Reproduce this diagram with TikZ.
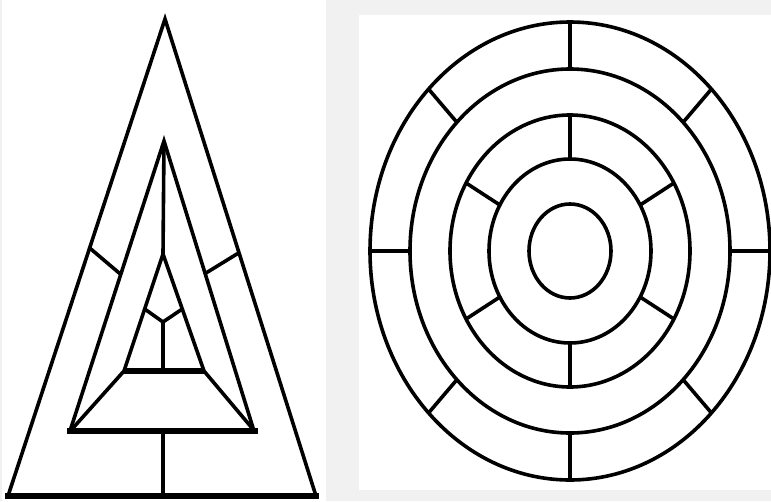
\documentclass[tikz,border=0pt]{standalone}
\usetikzlibrary{calc}
\definecolor{mazeGray}{RGB}{241,241,241}
\begin{document}
\begin{tikzpicture}[
    x=1pt,y=-1pt,
    wall/.style={line width=3.6pt,line join=miter},
    floor/.style={line width=5.5pt},
    ring/.style={line width=3.6pt}
  ]
  \useasboundingbox (0,0) rectangle (771,501);
  \fill[mazeGray] (0,0) rectangle (771,501);
  \fill[white] (2,0) rectangle (326,501);
  \fill[white] (359,15) rectangle (771,490);

  % triangle maze
  \coordinate (oA) at (165,19);
  \coordinate (oL) at (8,496);
  \coordinate (oR) at (316,496);
  \coordinate (mA) at (164,141);
  \coordinate (mL) at (70,431);
  \coordinate (mR) at (254,431);
  \coordinate (iA) at (163,254);
  \coordinate (iL) at (124,371);
  \coordinate (iR) at (204,371);
  \coordinate (yJ) at (163,322);
  \draw[wall] (oL) -- (oA) -- (oR);
  \draw[floor] (5,496) -- (319,496);
  \draw[wall] (mL) -- (mA) -- (mR);
  \draw[floor] (67,431) -- (258,431);
  \draw[wall] (iL) -- (iA) -- (iR);
  \draw[floor] (iL) -- (iR);
  \draw[wall] (iL) -- (73,428);
  \draw[wall] (iR) -- (252,428);
  \draw[wall] (mA) -- (iA);
  \draw[wall] (163,431) -- (163,496);
  \draw[wall] ($(iA)!0.47!(iL)$) -- (yJ) -- ($(iA)!0.47!(iR)$);
  \draw[wall] (yJ) -- (163,371);
  \draw[wall] ($(oA)!0.48!(oL)$) -- ($(mA)!0.46!(mL)$);
  \draw[wall] ($(oA)!0.49!(oR)$) -- ($(mA)!0.457!(mR)$);

  % circular maze
  \begin{scope}[shift={(570,251)}]
    \draw[ring] (0,0) ellipse [x radius=200pt, y radius=229pt];
    \draw[ring] (0,0) ellipse [x radius=160pt, y radius=182pt];
    \draw[ring] (0,0) ellipse [x radius=120pt, y radius=136pt];
    \draw[ring] (0,0) ellipse [x radius=81pt, y radius=92pt];
    \draw[ring] (0,0) ellipse [x radius=41pt, y radius=47pt];
    \foreach \a in {0,45,...,315}
      \draw[ring] (\a:160pt and 182pt) -- (\a:200pt and 229pt);
    \foreach \a in {30,90,...,330}
      \draw[ring] (\a:81pt and 92pt) -- (\a:120pt and 136pt);
  \end{scope}
\end{tikzpicture}
\end{document}
